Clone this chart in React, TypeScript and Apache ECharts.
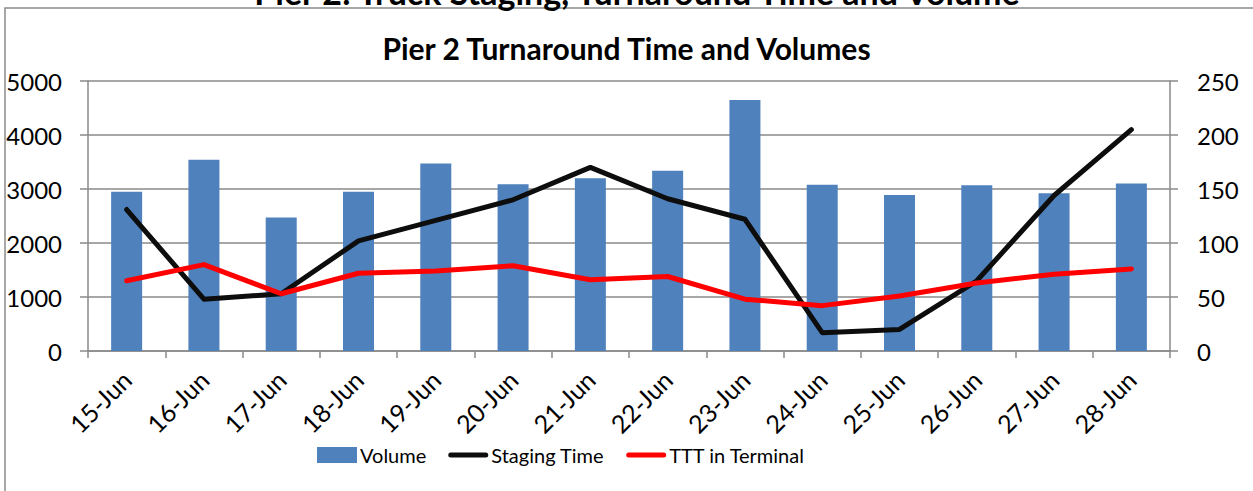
import React, { useEffect, useRef } from "react";
import * as echarts from "echarts";

const categories = ["15-Jun", "16-Jun", "17-Jun", "18-Jun", "19-Jun", "20-Jun", "21-Jun", "22-Jun", "23-Jun", "24-Jun", "25-Jun", "26-Jun", "27-Jun", "28-Jun"];
const volume = [2950, 3540, 2470, 2950, 3470, 3090, 3200, 3340, 4650, 3080, 2890, 3070, 2920, 3100];
const stagingTime = [131, 48, 53, 102, 121, 140, 170, 141, 122, 17, 20, 65, 144, 205];
const tttInTerminal = [65, 80, 53, 72, 74, 79, 66, 69, 48, 42, 51, 63, 71, 76];

const FONT = "Lato";
const GRID_COLOR = "#8a8a8a";
const LINE_ICON = "path://M2.5,0 L37.5,0 A2.5,2.5 0 0 1 37.5,5 L2.5,5 A2.5,2.5 0 0 1 2.5,0 Z";

export default function App() {
  const ref = useRef<HTMLDivElement>(null);
  useEffect(() => {
    document.body.style.margin = "0";
    const chart = echarts.init(ref.current!, null, { renderer: "svg" });
    chart.setOption({
      animation: false,
      backgroundColor: "#ffffff",
      textStyle: { fontFamily: FONT, color: "#000" },
      graphic: [
        {
          type: "rect",
          shape: { x: 5, y: 8, width: 1260, height: 500 },
          style: { fill: "none", stroke: GRID_COLOR, lineWidth: 1.5 },
        },
        {
          type: "text",
          x: 637,
          y: 8,
          style: {
            text: "Pier 2: Truck Staging, Turnaround Time and Volume",
            fontFamily: FONT,
            fontWeight: "bold",
            fontSize: 34,
            fill: "#000",
            align: "center",
            verticalAlign: "bottom",
          },
        },
      ],
      title: {
        text: "Pier 2 Turnaround Time and Volumes",
        left: "center",
        top: 28,
        textStyle: { fontFamily: FONT, fontWeight: "bold", fontSize: 30, color: "#000" },
      },
      legend: {
        bottom: 21,
        left: 312,
        itemGap: 22,
        itemWidth: 40,
        itemHeight: 16,
        symbolKeepAspect: true,
        textStyle: { fontFamily: FONT, fontSize: 20, color: "#000", padding: [0, 0, 0, -2] },
        data: [
          { name: "Volume", icon: "rect" },
          { name: "Staging Time", icon: LINE_ICON },
          { name: "TTT in Terminal", icon: LINE_ICON },
        ],
      },
      grid: { left: 88, right: 83, top: 81, bottom: 140 },
      xAxis: {
        type: "category",
        data: categories,
        boundaryGap: true,
        axisLine: { lineStyle: { color: GRID_COLOR, width: 1.5 } },
        axisTick: { show: true, length: 7, lineStyle: { color: GRID_COLOR, width: 1.5 } },
        axisLabel: { rotate: 45, fontSize: 25, fontFamily: FONT, color: "#000", margin: 24, interval: 0 },
      },
      yAxis: [
        {
          type: "value",
          min: 0,
          max: 5000,
          interval: 1000,
          axisLine: { show: true, lineStyle: { color: GRID_COLOR, width: 1.5 } },
          axisTick: { show: true, length: 8, lineStyle: { color: GRID_COLOR, width: 1.5 } },
          splitLine: { show: true, lineStyle: { color: GRID_COLOR, width: 1.5 } },
          axisLabel: { fontSize: 24, fontFamily: FONT, color: "#000", margin: 26, formatter: (v: number) => String(v) },
        },
        {
          type: "value",
          min: 0,
          max: 250,
          interval: 50,
          position: "right",
          axisLine: { show: true, lineStyle: { color: GRID_COLOR, width: 1.5 } },
          axisTick: { show: true, length: 8, lineStyle: { color: GRID_COLOR, width: 1.5 } },
          splitLine: { show: false },
          axisLabel: { fontSize: 24, fontFamily: FONT, color: "#000", margin: 27, formatter: (v: number) => String(v) },
        },
      ],
      series: [
        {
          name: "Volume",
          type: "bar",
          data: volume,
          barWidth: 31,
          itemStyle: { color: "#4F81BD" },
          yAxisIndex: 0,
        },
        {
          name: "Staging Time",
          type: "line",
          data: stagingTime,
          yAxisIndex: 1,
          symbol: "none",
          showSymbol: false,
          lineStyle: { color: "#0d0d0d", width: 5, cap: "round", join: "round" },
          itemStyle: { color: "#0d0d0d" },
        },
        {
          name: "TTT in Terminal",
          type: "line",
          data: tttInTerminal,
          yAxisIndex: 1,
          symbol: "none",
          showSymbol: false,
          lineStyle: { color: "#ff0000", width: 5, cap: "round", join: "round" },
          itemStyle: { color: "#ff0000" },
        },
      ],
    });
    return () => chart.dispose();
  }, []);
  return <div ref={ref} style={{ width: 1253, height: 491 }} />;
}
